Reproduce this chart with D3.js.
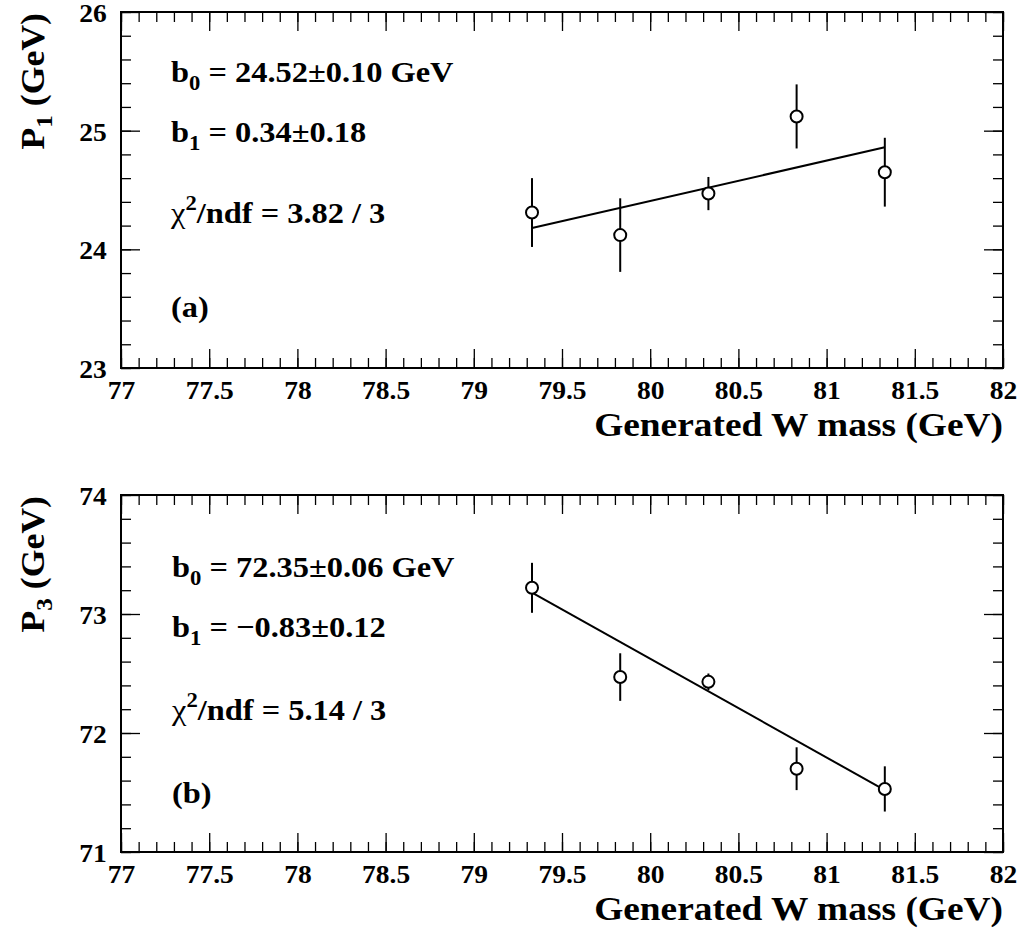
<!DOCTYPE html>
<html>
<head>
<meta charset="utf-8">
<script src="https://cdn.jsdelivr.net/npm/d3@7"></script>
<style>
  html, body { margin: 0; padding: 0; background: #fff; }
  svg { display: block; }
  svg text { font-family: "Liberation Serif", "Times New Roman", Times, Tinos, "DejaVu Serif", serif !important; font-weight: bold; fill: #000; }
</style>
</head>
<body>
<svg id="chart" width="1022" height="935"></svg>
<script>
// ---------------- DATA ----------------
const massPoints = [79.33, 79.83, 80.33, 80.83, 81.33];

const p1Values = [24.31, 24.12, 24.47, 25.12, 24.65];
const p1Errors = [0.29, 0.31, 0.14, 0.27, 0.29];
const p1Fit = { b0: 24.52, b1: 0.34 };

const p3Values = [73.22, 72.47, 72.43, 71.70, 71.53];
const p3Errors = [0.21, 0.20, 0.07, 0.18, 0.19];
const p3Fit = { b0: 72.35, b1: -0.83 };

const fitCenter = 80.33;

const xDomain = [77, 82];
const xMajorTicks = [77, 77.5, 78, 78.5, 79, 79.5, 80, 80.5, 81, 81.5, 82];
const xTickLabels = ["77", "77.5", "78", "78.5", "79", "79.5", "80", "80.5", "81", "81.5", "82"];

const p1Domain = [23, 26];
const p1Ticks = [23, 24, 25, 26];
const p3Domain = [71, 74];
const p3Ticks = [71, 72, 73, 74];

const xTitle = "Generated W mass (GeV)";
const p1Texts = { b0: "24.52\u00B10.10 GeV", b1: "0.34\u00B10.18", chi: "3.82 / 3", tag: "(a)" };
const p3Texts = { b0: "72.35\u00B10.06 GeV", b1: "\u22120.83\u00B10.12", chi: "5.14 / 3", tag: "(b)" };

// ---------------- DRAW ----------------
const FONT = '"Liberation Serif", "Times New Roman", Times, Tinos, "DejaVu Serif", serif';
const svg = d3.select("#chart");
svg.append("rect").attr("width", 1022).attr("height", 935).attr("fill", "#fff");

const left = 121, right = 1003;

function drawPanel(cfg) {
  const g = svg.append("g").attr("font-family", FONT).attr("font-weight", "bold");
  const x = d3.scaleLinear().domain(xDomain).range([left, right]);
  const y = d3.scaleLinear().domain(cfg.yDomain).range([cfg.bottom, cfg.top]);

  const xMinor = d3.range(0, 51).map(i => xDomain[0] + i * 0.1);
  const yMinor = d3.range(0, 16).map(i => cfg.yDomain[0] + i * 0.2);

  function styleAxis(sel) {
    sel.attr("font-family", FONT);
    sel.select(".domain").remove();
    sel.selectAll(".tick line").attr("stroke", "#000").attr("stroke-width", 1.3);
  }

  // minor ticks
  g.append("g").attr("transform", `translate(0,${cfg.bottom})`)
    .call(d3.axisBottom(x).tickValues(xMinor).tickSizeInner(-10).tickSizeOuter(0).tickFormat(""))
    .call(styleAxis);
  g.append("g").attr("transform", `translate(0,${cfg.top})`)
    .call(d3.axisTop(x).tickValues(xMinor).tickSizeInner(-10).tickSizeOuter(0).tickFormat(""))
    .call(styleAxis);
  g.append("g").attr("transform", `translate(${left},0)`)
    .call(d3.axisLeft(y).tickValues(yMinor).tickSizeInner(-10).tickSizeOuter(0).tickFormat(""))
    .call(styleAxis);
  g.append("g").attr("transform", `translate(${right},0)`)
    .call(d3.axisRight(y).tickValues(yMinor).tickSizeInner(-10).tickSizeOuter(0).tickFormat(""))
    .call(styleAxis);

  // major ticks with labels
  const xb = g.append("g").attr("transform", `translate(0,${cfg.bottom})`)
    .call(d3.axisBottom(x).tickValues(xMajorTicks).tickSizeInner(-19).tickSizeOuter(0)
      .tickPadding(13).tickFormat((d, i) => xTickLabels[i]))
    .call(styleAxis);
  xb.selectAll("text").attr("font-size", 25).attr("font-family", FONT)
    .attr("font-weight", "bold").attr("fill", "#000").attr("transform", "scale(1.1,1)");

  g.append("g").attr("transform", `translate(0,${cfg.top})`)
    .call(d3.axisTop(x).tickValues(xMajorTicks).tickSizeInner(-19).tickSizeOuter(0).tickFormat(""))
    .call(styleAxis);

  const yl = g.append("g").attr("transform", `translate(${left},0)`)
    .call(d3.axisLeft(y).tickValues(cfg.yTicks).tickSizeInner(-19).tickSizeOuter(0)
      .tickPadding(13).tickFormat(d3.format("d")))
    .call(styleAxis);
  yl.selectAll("text").attr("font-size", 25).attr("font-family", FONT)
    .attr("font-weight", "bold").attr("fill", "#000").attr("dy", "0.38em")
    .attr("transform", "scale(1.1,1)");

  g.append("g").attr("transform", `translate(${right},0)`)
    .call(d3.axisRight(y).tickValues(cfg.yTicks).tickSizeInner(-19).tickSizeOuter(0).tickFormat(""))
    .call(styleAxis);

  // frame
  g.append("rect")
    .attr("x", left).attr("y", cfg.top)
    .attr("width", right - left).attr("height", cfg.bottom - cfg.top)
    .attr("fill", "none").attr("stroke", "#000").attr("stroke-width", 2);

  // fit line
  const xs = d3.extent(massPoints);
  const fitFn = m => cfg.fit.b0 + cfg.fit.b1 * (m - fitCenter);
  g.append("path")
    .datum(xs)
    .attr("d", d3.line().x(d => x(d)).y(d => y(fitFn(d))))
    .attr("fill", "none").attr("stroke", "#000").attr("stroke-width", 2);

  // error bars (outside the marker)
  const r = 6;
  const pts = massPoints.map((m, i) => ({ m, v: cfg.values[i], e: cfg.errors[i] }));
  const eg = g.append("g").attr("stroke", "#000").attr("stroke-width", 2);
  pts.forEach(p => {
    const cy = y(p.v), top = y(p.v + p.e), bot = y(p.v - p.e);
    if (top < cy - r) {
      eg.append("line").attr("x1", x(p.m)).attr("x2", x(p.m)).attr("y1", top).attr("y2", cy - r);
    }
    if (bot > cy + r) {
      eg.append("line").attr("x1", x(p.m)).attr("x2", x(p.m)).attr("y1", cy + r).attr("y2", bot);
    }
  });

  // markers
  g.selectAll("circle.pt").data(pts).enter().append("circle")
    .attr("class", "pt")
    .attr("cx", d => x(d.m)).attr("cy", d => y(d.v)).attr("r", r)
    .attr("fill", "#fff").attr("stroke", "#000").attr("stroke-width", 2);

  // annotations
  const tx = cfg.textX;
  const fs = 30, sfs = 21, SX = 1.08;
  const tr = yy => `translate(${tx},${yy}) scale(${SX},1)`;

  const t0 = g.append("text").attr("transform", tr(cfg.textY[0])).attr("font-size", fs);
  t0.append("tspan").text("b");
  t0.append("tspan").attr("font-size", sfs).attr("dy", 8).text("0");
  t0.append("tspan").attr("dy", -8).text(" = " + cfg.texts.b0);

  const t1 = g.append("text").attr("transform", tr(cfg.textY[1])).attr("font-size", fs);
  t1.append("tspan").text("b");
  t1.append("tspan").attr("font-size", sfs).attr("dy", 8).text("1");
  t1.append("tspan").attr("dy", -8).text(" = " + cfg.texts.b1);

  const t2 = g.append("text").attr("transform", tr(cfg.textY[2])).attr("font-size", fs);
  t2.append("tspan").attr("font-weight", "normal").text("\u03C7");
  t2.append("tspan").attr("font-size", sfs).attr("dy", -13).text("2");
  t2.append("tspan").attr("dy", 13).text("/ndf = " + cfg.texts.chi);

  g.append("text").attr("transform", tr(cfg.textY[3])).attr("font-size", fs).text(cfg.texts.tag);

  // axis titles
  g.append("text")
    .attr("transform", `translate(${right},${cfg.bottom + 68}) scale(1.1,1)`)
    .attr("text-anchor", "end").attr("font-size", 34)
    .text(xTitle);

  const yt = g.append("text")
    .attr("transform", `translate(44,${cfg.top + 1}) rotate(-90) scale(1.05,1)`)
    .attr("text-anchor", "end").attr("font-size", 34);
  yt.append("tspan").text("P");
  yt.append("tspan").attr("font-size", 24).attr("dy", 8).text(cfg.ySub);
  yt.append("tspan").attr("dy", -8).text(" (GeV)");
}

drawPanel({
  top: 12, bottom: 368, yDomain: p1Domain, yTicks: p1Ticks,
  values: p1Values, errors: p1Errors, fit: p1Fit, texts: p1Texts, ySub: "1",
  textX: 171, textY: [82, 142, 223, 317]
});

drawPanel({
  top: 495, bottom: 852, yDomain: p3Domain, yTicks: p3Ticks,
  values: p3Values, errors: p3Errors, fit: p3Fit, texts: p3Texts, ySub: "3",
  textX: 172, textY: [577, 637, 720, 803]
});
</script>
</body>
</html>
